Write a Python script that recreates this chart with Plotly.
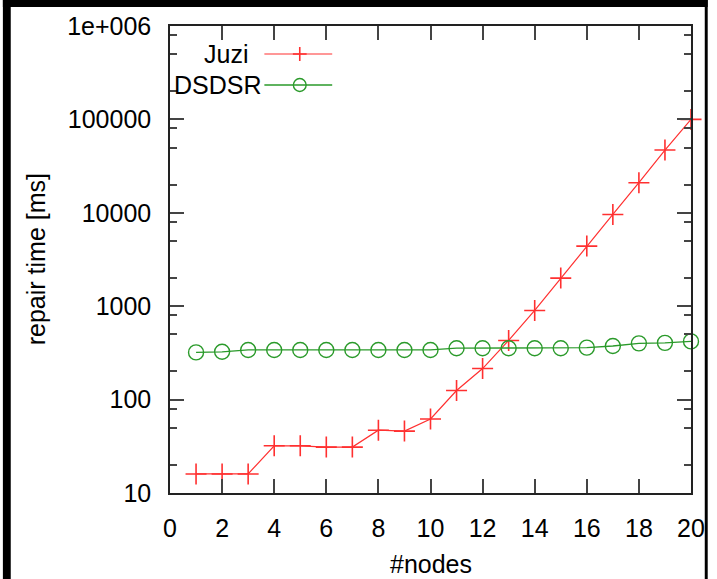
import plotly.graph_objects as go

nodes = list(range(1, 21))
juzi = [16, 16, 16, 32, 32, 31, 31, 47, 46, 62, 125, 215, 430, 900, 2000, 4400, 9600, 21000, 47000, 100000]
dsdsr = [320, 325, 340, 340, 340, 340, 340, 340, 340, 340, 355, 355, 355, 355, 355, 360, 375, 400, 405, 420]
series_names = ["Juzi", "DSDSR"]
y_tickvals = [10, 100, 1000, 10000, 100000, 1000000]
y_ticktext = ["10", "100", "1000", "10000", "100000", "1e+006"]
x_tickvals = list(range(0, 21, 2))
minor_y = [m * 10 ** k for k in range(1, 6) for m in (2, 5, 8)]

RED = "#ff3030"
GREEN = "#2a9a2a"
FONT = "Liberation Sans, Arial, sans-serif"
FS = 25

W, H = 717, 579
L, R, T, B = 170, 700, 26, 493


def px(x):
    return (x - L) / (R - L)


def py(y):
    return (B - y) / (B - T)


fig = go.Figure()
fig.add_trace(go.Scatter(
    x=nodes, y=juzi, mode="lines+markers", name=series_names[0],
    line=dict(color=RED, width=1.2),
    marker=dict(symbol="cross-thin-open", size=15, line=dict(color=RED, width=1.6)),
    cliponaxis=False, showlegend=False))
fig.add_trace(go.Scatter(
    x=nodes, y=dsdsr, mode="lines+markers", name=series_names[1],
    line=dict(color=GREEN, width=1.3),
    marker=dict(symbol="circle-open", size=15, line=dict(color=GREEN, width=1.4)),
    cliponaxis=False, showlegend=False))

shapes = []
# black frame strips (top, left, thin right)
for (x0, y0, x1, y1) in [(0, 0, W, 7), (0, 0, 8, H), (714, 0, W, H)]:
    shapes.append(dict(type="rect", xref="paper", yref="paper",
                       x0=px(x0), x1=px(x1), y0=py(y0), y1=py(y1),
                       fillcolor="black", line=dict(width=0), layer="above"))
# legend samples
shapes.append(dict(type="line", xref="paper", yref="paper", x0=px(266), x1=px(335),
                   y0=py(54), y1=py(54), line=dict(color=RED, width=1.2)))
shapes.append(dict(type="line", xref="paper", yref="paper", x0=px(295), x1=px(309),
                   y0=py(54), y1=py(54), line=dict(color=RED, width=1.6)))
shapes.append(dict(type="line", xref="paper", yref="paper", x0=px(302), x1=px(302),
                   y0=py(47), y1=py(61), line=dict(color=RED, width=1.6)))
shapes.append(dict(type="line", xref="paper", yref="paper", x0=px(266), x1=px(335),
                   y0=py(85), y1=py(85), line=dict(color=GREEN, width=1.3)))
shapes.append(dict(type="circle", xref="paper", yref="paper", x0=px(295.5), x1=px(308.5),
                   y0=py(78.5), y1=py(91.5), line=dict(color=GREEN, width=1.4),
                   fillcolor="rgba(0,0,0,0)"))

annotations = [
    dict(text=series_names[0], xref="paper", yref="paper", x=px(251), y=py(54),
         xanchor="right", yanchor="middle", showarrow=False,
         font=dict(family=FONT, size=FS, color="black")),
    dict(text=series_names[1], xref="paper", yref="paper", x=px(266), y=py(85),
         xanchor="right", yanchor="middle", showarrow=False,
         font=dict(family=FONT, size=FS, color="black")),
    dict(text="#nodes", xref="paper", yref="paper", x=px(435), y=py(564),
         xanchor="center", yanchor="middle", showarrow=False,
         font=dict(family=FONT, size=FS, color="black")),
    dict(text="repair time [ms]", xref="paper", yref="paper", x=px(34), y=py(259),
         xanchor="center", yanchor="middle", showarrow=False, textangle=-90,
         font=dict(family=FONT, size=FS, color="black")),
]

fig.update_layout(
    width=W, height=H,
    margin=dict(l=L, r=W - R, t=T, b=H - B, pad=0),
    paper_bgcolor="white", plot_bgcolor="white",
    font=dict(family=FONT, size=FS, color="black"),
    shapes=shapes, annotations=annotations, showlegend=False,
)
fig.update_xaxes(
    range=[0, 20], tickvals=x_tickvals, ticks="inside", ticklen=14, tickwidth=1.5,
    tickcolor="#444", showline=True, linecolor="#222", linewidth=1.5, mirror="allticks",
    showgrid=False, zeroline=False, ticklabelstandoff=12,
    tickfont=dict(family=FONT, size=FS, color="black"))
fig.update_yaxes(
    type="log", range=[1, 6], tickvals=y_tickvals, ticktext=y_ticktext,
    ticks="inside", ticklen=14, tickwidth=1.5, tickcolor="#444",
    showline=True, linecolor="#222", linewidth=1.5, mirror="allticks",
    showgrid=False, zeroline=False, ticklabelstandoff=12,
    minor=dict(tickvals=minor_y, ticks="inside", ticklen=7, tickwidth=1.5,
               tickcolor="#444", showgrid=False),
    tickfont=dict(family=FONT, size=FS, color="black"))

post = ("var de=document.documentElement, bd=document.body;"
        "de.style.margin='0'; bd.style.margin='0'; bd.style.padding='0';"
        "de.style.overflow='hidden'; bd.style.overflow='hidden';")
fig.write_html("out.html", post_script=post, config={"displayModeBar": False})
